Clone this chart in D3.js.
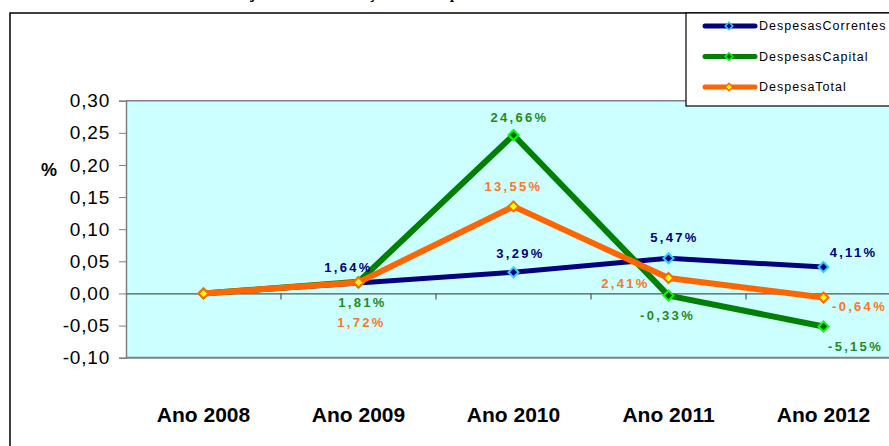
<!DOCTYPE html>
<html>
<head>
<meta charset="utf-8">
<script src="https://cdn.jsdelivr.net/npm/d3@7"></script>
<style>
  body { margin: 0; background: #fff; }
  svg { display: block; font-family: Arial, "Liberation Sans", sans-serif; }
</style>
</head>
<body>
<div id="chart"></div>
<script>
// data (values are fractions, labels show them as %)
const years = ["Ano 2008", "Ano 2009", "Ano 2010", "Ano 2011", "Ano 2012"];
const correntes = [0, 0.0164, 0.0329, 0.0547, 0.0411];
const capital = [0, 0.0181, 0.2466, -0.0033, -0.0515];
const total = [0, 0.0172, 0.1355, 0.0241, -0.0064];
const seriesNames = ["DespesasCorrentes", "DespesasCapital", "DespesaTotal"];
const yTicks = [-0.10, -0.05, 0, 0.05, 0.10, 0.15, 0.20, 0.25, 0.30];

const W = 889, H = 446;
const plot = {left: 126, top: 100.7, right: 901, bottom: 357.7};

const svg = d3.select("#chart").append("svg")
    .attr("width", W)
    .attr("height", H);

// title, almost all of it is above the top of the picture
svg.append("text")
    .attr("x", 252).attr("y", -2.5)
    .attr("font-family", "'Liberation Serif', 'DejaVu Serif', serif")
    .attr("font-style", "italic").attr("font-weight", "bold")
    .attr("font-size", 16)
    .attr("letter-spacing", 0.6)
    .text("jectória da variação das despesas");

// outer frame
svg.append("rect")
    .attr("x", 10).attr("y", 13)
    .attr("width", 900).attr("height", 460)
    .attr("fill", "#fff").attr("stroke", "#000").attr("stroke-width", 1.5);

const x = d3.scaleBand()
    .domain(years)
    .range([plot.left, plot.right]);
const y = d3.scaleLinear()
    .domain([-0.10, 0.30])
    .range([plot.bottom, plot.top]);

// plot background
svg.append("rect")
    .attr("x", plot.left).attr("y", plot.top)
    .attr("width", plot.right - plot.left).attr("height", plot.bottom - plot.top)
    .attr("fill", "#ccffff");
svg.append("line")
    .attr("x1", plot.left).attr("x2", plot.right)
    .attr("y1", plot.top).attr("y2", plot.top)
    .attr("stroke", "#808080").attr("stroke-width", 1.5);
svg.append("line")
    .attr("x1", plot.left).attr("x2", plot.right)
    .attr("y1", plot.bottom).attr("y2", plot.bottom)
    .attr("stroke", "#808080").attr("stroke-width", 2);

const fmt = v => d3.format(".2f")(v).replace(".", ",").replace("−", "-");

// y axis
const yAxis = svg.append("g")
    .attr("transform", `translate(${plot.left},0)`)
    .call(d3.axisLeft(y).tickValues(yTicks).tickFormat(fmt).tickSize(7).tickPadding(9));
yAxis.select(".domain").attr("stroke", "#808080").attr("stroke-width", 1.5);
yAxis.selectAll(".tick line").attr("stroke", "#808080");
yAxis.selectAll(".tick text")
    .attr("fill", "#000")
    .attr("font-size", 19)
    .attr("letter-spacing", 0.8)
    .attr("font-family", "Arial, 'Liberation Sans', sans-serif");

svg.append("text")
    .attr("x", 49).attr("y", 176)
    .attr("text-anchor", "middle")
    .attr("font-size", 18).attr("font-weight", "bold")
    .text("%");

// zero line with category ticks
const xAxis = svg.append("g")
    .attr("transform", `translate(0,${y(0)})`)
    .call(d3.axisBottom(x).tickValues([]).tickSize(0));
xAxis.select(".domain").attr("stroke", "#555").attr("stroke-width", 1.2);
svg.append("g").selectAll("line")
    .data(years.slice(1))
    .join("line")
    .attr("x1", d => x(d)).attr("x2", d => x(d))
    .attr("y1", y(0)).attr("y2", y(0) + 6)
    .attr("stroke", "#555").attr("stroke-width", 1.2);

// category labels
svg.append("g").selectAll("text")
    .data(years)
    .join("text")
    .attr("x", d => x(d) + x.bandwidth() / 2)
    .attr("y", 422)
    .attr("text-anchor", "middle")
    .attr("font-size", 21).attr("font-weight", "bold")
    .text(d => d);

// series styles
const styles = [
  {line: "#000080", width: 5, fill: "#000080", edge: "#33ccff", text: "#000080"},
  {line: "#008000", width: 6, fill: "#006400", edge: "#00ff00", text: "#1e8c1e"},
  {line: "#ff6600", width: 6, fill: "#ffff00", edge: "#ff6600", text: "#ff7722"}
];
// where each data label sits relative to its point [dx, dy]
const labelOffsets = [
  [null, [-10, -15], [7, -19], [6, -21], [30, -15]],
  [null, [4, 21], [6, -18], [-1, 20], [32, 20]],
  [null, [3, 40], [0, -20], [-43, 5], [36, 9]]
];
const seriesData = [correntes, capital, total];

const line = d3.line()
    .x((d, i) => x(years[i]) + x.bandwidth() / 2)
    .y(d => y(d));
const diamond = d3.symbol().type(d3.symbolDiamond2).size(64);

seriesData.forEach((vals, s) => {
  const st = styles[s];
  svg.append("path")
      .datum(vals)
      .attr("d", line)
      .attr("fill", "none")
      .attr("stroke", st.line)
      .attr("stroke-width", st.width)
      .attr("stroke-linejoin", "round");
  svg.append("g").selectAll("path")
      .data(vals)
      .join("path")
      .attr("transform", (d, i) => `translate(${x(years[i]) + x.bandwidth() / 2},${y(d)})`)
      .attr("d", diamond)
      .attr("fill", st.fill)
      .attr("stroke", st.edge)
      .attr("stroke-width", 2);
});

// data labels
seriesData.forEach((vals, s) => {
  svg.append("g").selectAll("text")
      .data(vals.map((v, i) => ({v, i})).filter(d => labelOffsets[s][d.i]))
      .join("text")
      .attr("x", d => x(years[d.i]) + x.bandwidth() / 2 + labelOffsets[s][d.i][0])
      .attr("y", d => y(d.v) + labelOffsets[s][d.i][1])
      .attr("dy", "0.35em")
      .attr("text-anchor", "middle")
      .attr("font-size", 13).attr("font-weight", "bold")
      .attr("letter-spacing", 2.3)
      .attr("fill", styles[s].text)
      .text(d => d3.format(".2f")(d.v * 100).replace(".", ",").replace("−", "-") + "%");
});

// legend
const legend = svg.append("g");
legend.append("rect")
    .attr("x", 686).attr("y", 13)
    .attr("width", 260).attr("height", 93)
    .attr("fill", "#fff").attr("stroke", "#000").attr("stroke-width", 1.2);
const legendY = d3.scalePoint().domain(seriesNames).range([26, 87]);
seriesNames.forEach((name, s) => {
  const st = styles[s];
  const ly = legendY(name);
  legend.append("line")
      .attr("x1", 705).attr("x2", 755)
      .attr("y1", ly).attr("y2", ly)
      .attr("stroke", st.line).attr("stroke-width", 5)
      .attr("stroke-linecap", "round");
  legend.append("path")
      .attr("transform", `translate(729,${ly})`)
      .attr("d", d3.symbol().type(d3.symbolDiamond2).size(36))
      .attr("fill", st.fill).attr("stroke", st.edge).attr("stroke-width", 1.5);
  legend.append("text")
      .attr("x", 759).attr("y", ly)
      .attr("dy", "0.35em")
      .attr("font-size", 12.5)
      .attr("letter-spacing", 1)
      .text(name);
});
</script>
</body>
</html>
